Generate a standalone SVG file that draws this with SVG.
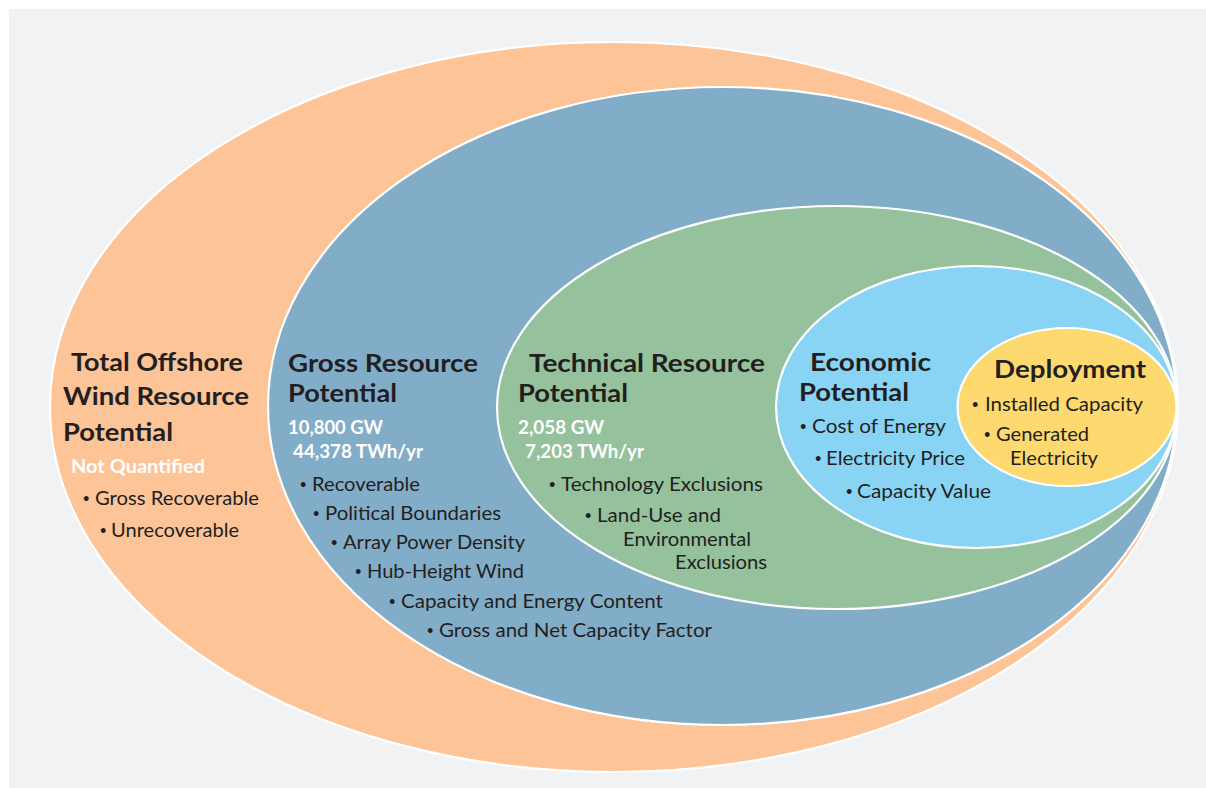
<svg xmlns="http://www.w3.org/2000/svg" width="1206" height="788" viewBox="0 0 1206 788">
<style>
  .ring { stroke: #ffffff; stroke-width: 2.2; }
  .t { font-family: Lato, "Liberation Sans", sans-serif; fill: #231f20; }
  .h { font-size: 25.5px; font-weight: 700; }
  .b { font-size: 19px; font-weight: 400; }
  .v { font-size: 18.5px; font-weight: 700; fill: #ffffff; }
  .d { font-size: 11px; font-weight: 700; }
</style>
<rect x="0" y="0" width="1206" height="788" fill="#ffffff"/>
<rect x="9" y="9" width="1197" height="779" fill="#f1f2f4"/>

<g id="total-offshore">
  <ellipse class="ring" cx="614" cy="407" rx="564" ry="365" fill="#fdc498"/>
  <text class="t h" x="71" y="371" textLength="172" lengthAdjust="spacingAndGlyphs">Total Offshore</text>
  <text class="t h" x="63" y="405" textLength="186" lengthAdjust="spacingAndGlyphs">Wind Resource</text>
  <text class="t h" x="63" y="441" textLength="110" lengthAdjust="spacingAndGlyphs">Potential</text>
  <text class="t v" x="71" y="473" textLength="134" lengthAdjust="spacingAndGlyphs">Not Quantified</text>
  <text class="t d" x="83" y="502">•</text>
  <text class="t b" x="95" y="505" textLength="164" lengthAdjust="spacingAndGlyphs">Gross Recoverable</text>
  <text class="t d" x="100" y="534">•</text>
  <text class="t b" x="111" y="537" textLength="128" lengthAdjust="spacingAndGlyphs">Unrecoverable</text>
</g>

<g id="gross-resource">
  <ellipse class="ring" cx="722.5" cy="406" rx="454.5" ry="319" fill="#82adc8"/>
  <text class="t h" x="288" y="372" textLength="190" lengthAdjust="spacingAndGlyphs">Gross Resource</text>
  <text class="t h" x="288" y="402" textLength="109" lengthAdjust="spacingAndGlyphs">Potential</text>
  <text class="t v" x="288" y="434" textLength="95" lengthAdjust="spacingAndGlyphs">10,800 GW</text>
  <text class="t v" x="293" y="458" textLength="130" lengthAdjust="spacingAndGlyphs">44,378 TWh/yr</text>
  <text class="t d" x="300" y="488">•</text>
  <text class="t b" x="312" y="491" textLength="108" lengthAdjust="spacingAndGlyphs">Recoverable</text>
  <text class="t d" x="313" y="517">•</text>
  <text class="t b" x="325" y="520" textLength="176" lengthAdjust="spacingAndGlyphs">Political Boundaries</text>
  <text class="t d" x="331" y="546">•</text>
  <text class="t b" x="343" y="549" textLength="182" lengthAdjust="spacingAndGlyphs">Array Power Density</text>
  <text class="t d" x="355" y="575">•</text>
  <text class="t b" x="367" y="578" textLength="157" lengthAdjust="spacingAndGlyphs">Hub-Height Wind</text>
  <text class="t d" x="389" y="605">•</text>
  <text class="t b" x="401" y="608" textLength="262" lengthAdjust="spacingAndGlyphs">Capacity and Energy Content</text>
  <text class="t d" x="427" y="634">•</text>
  <text class="t b" x="439" y="637" textLength="273" lengthAdjust="spacingAndGlyphs">Gross and Net Capacity Factor</text>
</g>

<g id="technical-resource">
  <ellipse class="ring" cx="837" cy="407.5" rx="340" ry="201.5" fill="#95c19d"/>
  <text class="t h" x="529" y="372" textLength="236" lengthAdjust="spacingAndGlyphs">Technical Resource</text>
  <text class="t h" x="518" y="402" textLength="110" lengthAdjust="spacingAndGlyphs">Potential</text>
  <text class="t v" x="518" y="434" textLength="86" lengthAdjust="spacingAndGlyphs">2,058 GW</text>
  <text class="t v" x="525" y="458" textLength="119" lengthAdjust="spacingAndGlyphs">7,203 TWh/yr</text>
  <text class="t d" x="549" y="488">•</text>
  <text class="t b" x="561" y="491" textLength="202" lengthAdjust="spacingAndGlyphs">Technology Exclusions</text>
  <text class="t d" x="585" y="519">•</text>
  <text class="t b" x="597" y="522" textLength="124" lengthAdjust="spacingAndGlyphs">Land-Use and</text>
  <text class="t b" x="623" y="546" textLength="128" lengthAdjust="spacingAndGlyphs">Environmental</text>
  <text class="t b" x="675" y="569" textLength="92" lengthAdjust="spacingAndGlyphs">Exclusions</text>
</g>

<g id="economic-potential">
  <ellipse class="ring" cx="976.5" cy="407" rx="200.5" ry="141" fill="#89d4f5"/>
  <text class="t h" x="810" y="371" textLength="121" lengthAdjust="spacingAndGlyphs">Economic</text>
  <text class="t h" x="799" y="401" textLength="110" lengthAdjust="spacingAndGlyphs">Potential</text>
  <text class="t d" x="800" y="430">•</text>
  <text class="t b" x="812" y="433" textLength="134" lengthAdjust="spacingAndGlyphs">Cost of Energy</text>
  <text class="t d" x="815" y="462">•</text>
  <text class="t b" x="826" y="465" textLength="139" lengthAdjust="spacingAndGlyphs">Electricity Price</text>
  <text class="t d" x="846" y="495">•</text>
  <text class="t b" x="857" y="498" textLength="134" lengthAdjust="spacingAndGlyphs">Capacity Value</text>
</g>

<g id="deployment">
  <ellipse class="ring" cx="1067" cy="407" rx="109.5" ry="79" fill="#fed970"/>
  <text class="t h" x="994" y="378" textLength="152" lengthAdjust="spacingAndGlyphs">Deployment</text>
  <text class="t d" x="972" y="408">•</text>
  <text class="t b" x="985" y="411" textLength="158" lengthAdjust="spacingAndGlyphs">Installed Capacity</text>
  <text class="t d" x="984" y="438">•</text>
  <text class="t b" x="996" y="441" textLength="93" lengthAdjust="spacingAndGlyphs">Generated</text>
  <text class="t b" x="1010" y="465" textLength="88" lengthAdjust="spacingAndGlyphs">Electricity</text>
</g>

<g id="connectors"/>
</svg>
